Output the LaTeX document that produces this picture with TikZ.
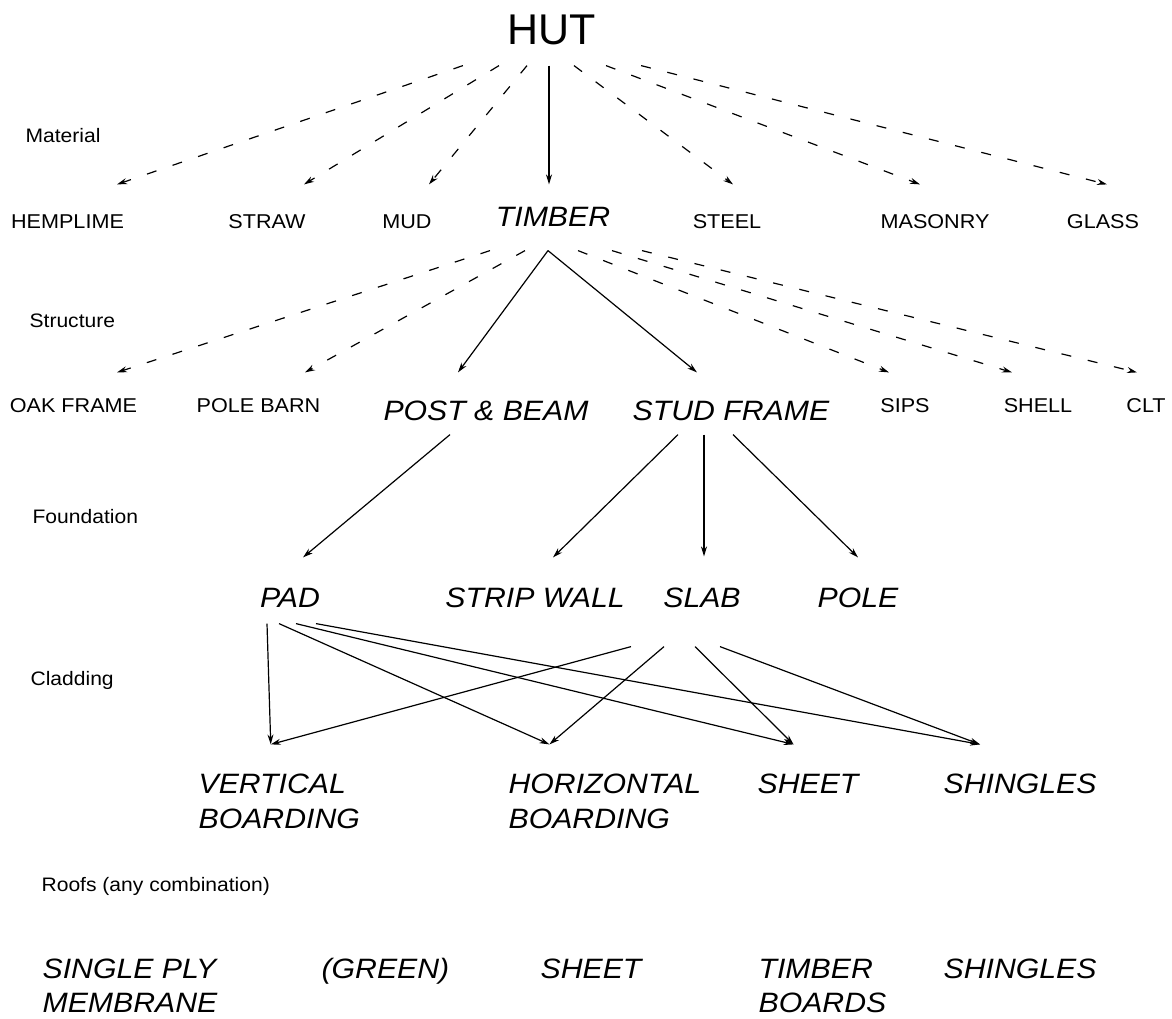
\documentclass[tikz,border=0pt]{standalone}
\usepackage{fontspec}
\setmainfont{Liberation Sans}[FakeStretch=1.08]
\newfontfamily\hutfont{Liberation Sans}
\usetikzlibrary{arrows.meta}
\newcommand{\twolines}[2]{\vtop{\hbox{#1}\hbox{#2}}}
\tikzset{
	level/.style = {font=\fontsize{19.5}{23}\selectfont, inner sep=0pt, 
		anchor=base west},
	option/.style = {font=\fontsize{20}{24}\selectfont, inner sep=0pt, 
		anchor=base, text height=#1},
	choice/.style 2 args = {font=\fontsize{28}{35}\selectfont\itshape, 
		inner sep=0pt, anchor=base, text height=#1, text depth=#2},
	clad/.style = {choice={48pt}{0pt}, anchor=base west},
	roof/.style = {font=\fontsize{28}{34}\selectfont\itshape, inner sep=0pt, 
		anchor=base west},
	maybe/.style = {->, dash pattern=on 10pt off 17pt},
	sure/.style = {->}
}

\begin{document}
\begin{tikzpicture}[x=1pt, y=1pt, line width=1.2pt,
>={Stealth[length=10pt, width=6pt]}]
\useasboundingbox (0,0) rectangle (1172,-1018);
\node (hut) [inner sep=0pt, anchor=base, font=\hutfont\fontsize{43}{48}\selectfont,
	minimum width=177pt, text depth=21pt] at (552,-44) {HUT};
%----------------- Material --------------
\node (hemp) [option=43pt] at (67.5,-228) {HEMPLIME};
\node (straw) [option=43pt] at (267,-228) {STRAW};
\node (mud) [option=43pt] at (407,-228) {MUD};
\node (timber) [choice={41pt}{24pt}] at (553,-226) {TIMBER};
\node (steel) [option=43pt] at (727,-228) {STEEL};
\node (masonry) [option=43pt] at (935,-228) {MASONRY};
\node (glass) [option=43pt] at (1103,-228) {GLASS};
%----------------- Structure --------------
\node (oak) [option=39pt] at (73.5,-412) {OAK FRAME};
\node (barn) [option=39pt] at (258.5,-412) {POLE BARN};
\node (post) [choice={47pt}{14pt}] at (486,-420) {POST \& BEAM};
\node (stud) [choice={47pt}{14pt}] at (731,-420) {STUD FRAME};
\node (sips) [option=39pt] at (905,-412) {SIPS};
\node (shell) [option=39pt] at (1038,-412) {SHELL};
\node (clt) [option=39pt] at (1146,-412) {CLT};
%----------------- Foundation --------------
\node (pad) [choice={49pt}{16pt}] at (290,-607) {PAD};
\node (strip) [choice={49pt}{16pt}] at (535,-607) {STRIP WALL};
\node (slab) [choice={50pt}{39pt}] at (702,-607) {SLAB};
\node (pole) [choice={49pt}{16pt}] at (858,-607) {POLE};
%----------------- Cladding --------------
\node (vert) [clad] at (198,-793) {\twolines{VERTICAL}{BOARDING}};
\node (horiz) [clad] at (508,-793) {\twolines{HORIZONTAL}{BOARDING}};
\node (sheet) [clad] at (757,-793) {SHEET};
\node (shingles) [clad] at (943,-793) {SHINGLES};
%----------------- Roofs --------------
\node (membrane) [roof] at (42,-978) {\twolines{SINGLE PLY}{MEMBRANE}};
\node (green) [roof] at (321,-978) {(GREEN)};
\node (roofsheet) [roof] at (540,-978) {SHEET};
\node (boards) [roof] at (758,-978) {\twolines{TIMBER}{BOARDS}};
\node (roofshingles) [roof] at (943,-978) {SHINGLES};
%----------------- Level labels --------------
\node (lmat) [level] at (25,-142) {Material};
\node (lstruct) [level] at (29,-327) {Structure};
\node (lfound) [level] at (32,-523) {Foundation};
\node (lclad) [level] at (30,-685) {Cladding};
\node (lroof) [level] at (41,-891) {Roofs (any combination)};
%----------------- Arrows --------------
\draw[maybe] (hut.south west) -- ([xshift=49.5pt]hemp.north);
\draw[maybe] ([xshift=-53pt]hut.south) -- ([xshift=37pt]straw.north);
\draw[maybe] ([xshift=-25pt]hut.south) -- ([xshift=22pt]mud.north);
\draw[sure] ([xshift=-3pt]hut.south) -- ([xshift=-4pt]timber.north);
\draw[maybe] ([xshift=22pt]hut.south) -- ([xshift=6pt]steel.north);
\draw[maybe] ([xshift=54pt]hut.south) -- ([xshift=-15pt]masonry.north);
\draw[maybe] (hut.south east) -- ([xshift=4pt]glass.north);

\draw[maybe] ([xshift=-63pt]timber.south) -- ([xshift=43.5pt]oak.north);
\draw[maybe] ([xshift=-28pt]timber.south) -- ([xshift=46.5pt]barn.north);
\draw[sure] ([xshift=-5pt]timber.south) -- ([xshift=-28pt]post.north);
\draw[sure] ([xshift=-5pt]timber.south) -- ([xshift=-34pt]stud.north);
\draw[maybe] ([xshift=25pt]timber.south) -- ([xshift=-16pt]sips.north);
\draw[maybe] ([xshift=59pt]timber.south) -- ([xshift=-26pt]shell.north);
\draw[maybe] ([xshift=89pt]timber.south) -- ([xshift=-9pt]clt.north);

\draw[sure] ([xshift=-36pt]post.south) -- ([xshift=13pt]pad.north);
\draw[sure] ([xshift=-53pt]stud.south) -- ([xshift=18pt]strip.north);
\draw[sure] ([xshift=-27pt]stud.south) -- ([xshift=2pt]slab.north);
\draw[sure] ([xshift=2pt]stud.south) -- (pole.north);

\draw[sure] ([xshift=-23pt]pad.south) -- ([xshift=-8.5pt]vert.north);
\draw[sure] ([xshift=-11pt]pad.south) -- ([xshift=-55.5pt]horiz.north);
\draw[sure] ([xshift=6pt]pad.south) -- ([xshift=-14.5pt]sheet.north);
\draw[sure] ([xshift=26pt]pad.south) -- ([xshift=-40pt]shingles.north);
\draw[sure] ([xshift=-71pt]slab.south) -- ([xshift=-8.5pt]vert.north);
\draw[sure] ([xshift=-38pt]slab.south) -- ([xshift=-55.5pt]horiz.north);
\draw[sure] ([xshift=-7pt]slab.south) -- ([xshift=-14.5pt]sheet.north);
\draw[sure] ([xshift=18pt]slab.south) -- ([xshift=-40pt]shingles.north);
\end{tikzpicture}
\end{document}
